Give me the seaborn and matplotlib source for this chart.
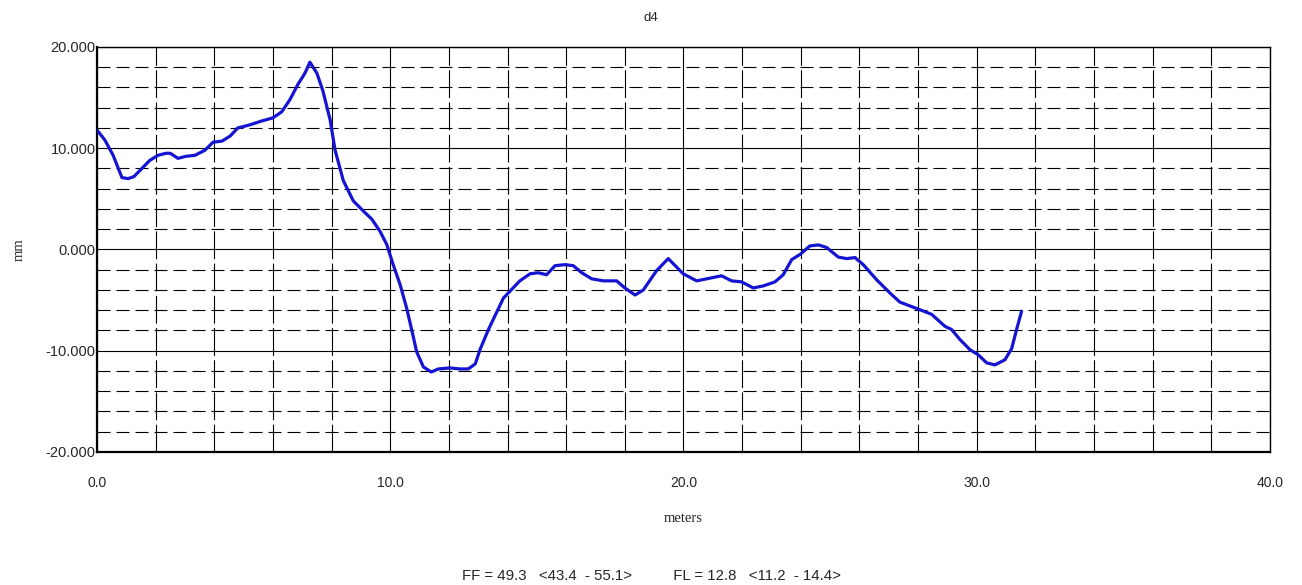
import numpy as np
import pandas as pd
import matplotlib
matplotlib.use('Agg')
import matplotlib.pyplot as plt
from matplotlib.ticker import MultipleLocator, FormatStrFormatter
import seaborn as sns

# profile
meters = [0.0, 0.27, 0.55, 0.85, 1.06, 1.26, 1.53, 1.8, 2.08, 2.35, 2.5, 2.76,
          3.03, 3.34, 3.68, 3.96, 4.26, 4.54, 4.8, 5.2, 5.63, 6.0, 6.3, 6.58,
          6.85, 7.09, 7.26, 7.5, 7.7, 7.95, 8.12, 8.4, 8.74, 9.08, 9.37, 9.65,
          9.88, 10.1, 10.34, 10.56, 10.8, 10.9, 11.13, 11.4, 11.64, 12.04, 12.38,
          12.66, 12.9, 13.06, 13.35, 13.86, 14.42, 14.77, 15.05, 15.33, 15.62,
          15.96, 16.24, 16.53, 16.87, 17.27, 17.72, 18.0, 18.35, 18.63, 19.08,
          19.48, 19.99, 20.45, 20.79, 21.3, 21.64, 21.98, 22.38, 22.72, 23.12,
          23.4, 23.69, 23.97, 24.31, 24.6, 24.88, 25.28, 25.56, 25.85, 26.13,
          26.59, 27.04, 27.38, 28.06, 28.46, 28.92, 29.14, 29.43, 29.77, 30.05,
          30.34, 30.62, 30.96, 31.19, 31.36, 31.53]
mm = [11.8, 10.8, 9.3, 7.1, 7.0, 7.2, 8.0, 8.8, 9.3, 9.5, 9.5, 9.0,
      9.2, 9.3, 9.8, 10.6, 10.7, 11.2, 12.0, 12.3, 12.7, 13.0, 13.6, 14.8,
      16.3, 17.4, 18.5, 17.4, 15.7, 12.8, 9.8, 6.8, 4.8, 3.8, 3.0, 1.8,
      0.5, -1.5, -3.5, -5.8, -8.8, -10.1, -11.6, -12.1, -11.8, -11.7, -11.8,
      -11.8, -11.3, -9.9, -7.9, -4.8, -3.1, -2.4, -2.3, -2.5, -1.6,
      -1.5, -1.6, -2.3, -2.9, -3.1, -3.1, -3.8, -4.5, -4.0, -2.1,
      -0.9, -2.4, -3.1, -2.9, -2.6, -3.1, -3.2, -3.8, -3.6, -3.2,
      -2.5, -1.0, -0.5, 0.35, 0.45, 0.2, -0.75, -0.9, -0.8, -1.5,
      -3.0, -4.3, -5.2, -5.95, -6.4, -7.6, -7.9, -8.9, -9.9, -10.4,
      -11.2, -11.4, -10.9, -9.8, -7.9, -6.1]

TITLE = 'd4'
X_LABEL = 'meters'
Y_LABEL = 'mm'
FOOTER = 'FF = 49.3   <43.4  - 55.1>          FL = 12.8   <11.2  - 14.4>'

df = pd.DataFrame({'meters': meters, 'mm': mm})

sns.set_style('white')
plt.rcParams['font.family'] = ['Liberation Sans', 'DejaVu Sans']

fig = plt.figure(figsize=(13.02, 5.85), dpi=100)
ax = fig.add_axes([0.0745, 0.2274, 0.9009, 0.6923])

sns.lineplot(data=df, x='meters', y='mm', ax=ax, sort=False, estimator=None,
             color='#1414d2', linewidth=2.3, zorder=5)

ax.set_xlim(0, 40)
ax.set_ylim(-20, 20)
ax.xaxis.set_major_locator(MultipleLocator(10))
ax.xaxis.set_minor_locator(MultipleLocator(2))
ax.yaxis.set_major_locator(MultipleLocator(10))
ax.yaxis.set_minor_locator(MultipleLocator(2))
ax.xaxis.set_major_formatter(FormatStrFormatter('%.1f'))
ax.yaxis.set_major_formatter(FormatStrFormatter('%.3f'))

# grid: solid at the majors, dashed at the minors
ax.grid(which='major', color='black', linewidth=0.8, linestyle='-')
ax.grid(which='minor', axis='y', color='black', linewidth=0.8,
        linestyle=(0, (11.7, 5.4)))
ax.grid(which='minor', axis='x', color='black', linewidth=0.8,
        linestyle=(0, (25, 4)))
ax.set_axisbelow(True)

ax.tick_params(which='both', length=0)
ax.tick_params(axis='x', pad=17, labelsize=10)
ax.tick_params(axis='y', pad=1, labelsize=10.5)

for side, sp in ax.spines.items():
    sp.set_visible(True)
    sp.set_color('black')
    sp.set_linewidth(1.0)
ax.spines['left'].set_linewidth(1.6)
ax.spines['bottom'].set_linewidth(1.6)

ax.set_xlabel(X_LABEL, family='Liberation Serif', fontsize=10.5)
ax.set_ylabel(Y_LABEL, family='Liberation Serif', fontsize=10.5)
ax.xaxis.set_label_coords(0.5, -0.148)
ax.yaxis.set_label_coords(-0.0605, 0.5)

fig.text(0.5, 1 - 18 / 585, TITLE, ha='center', va='center', fontsize=9.5)
fig.text(0.5, 1 - 576 / 585, FOOTER, ha='center', va='center', fontsize=10.8)

fig.savefig('out.png', dpi=100)
